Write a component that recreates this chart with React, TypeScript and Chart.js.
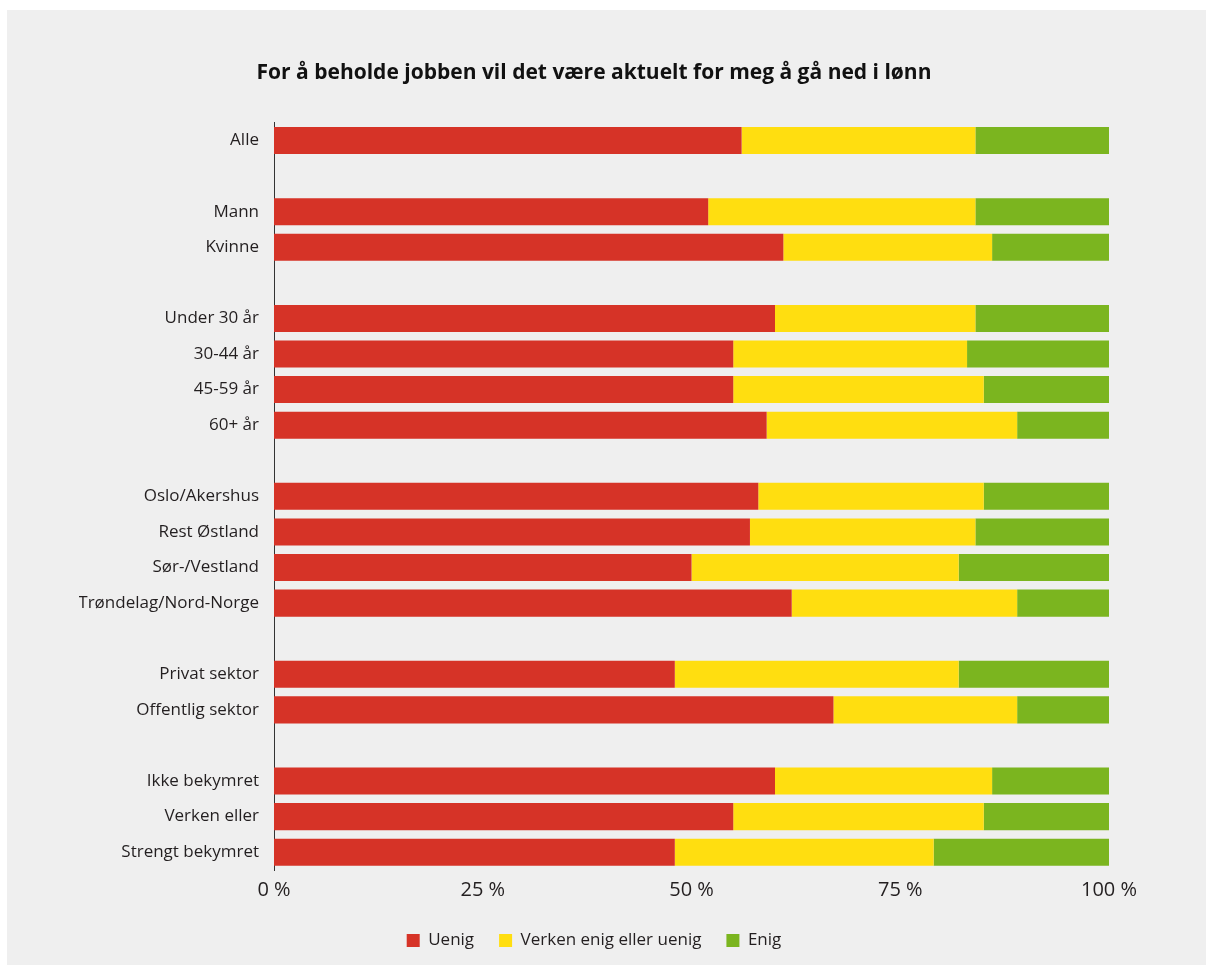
import React, { useEffect, useRef } from "react";
import { Chart, registerables } from "chart.js";

Chart.register(...registerables);

const TITLE = "For å beholde jobben vil det være aktuelt for meg å gå ned i lønn";

const categories = [
  "Alle",
  "",
  "Mann",
  "Kvinne",
  " ",
  "Under 30 år",
  "30-44 år",
  "45-59 år",
  "60+ år",
  "  ",
  "Oslo/Akershus",
  "Rest Østland",
  "Sør-/Vestland",
  "Trøndelag/Nord-Norge",
  "   ",
  "Privat sektor",
  "Offentlig sektor",
  "    ",
  "Ikke bekymret",
  "Verken eller",
  "Strengt bekymret",
];

const uenig = [56, null, 52, 61, null, 60, 55, 55, 59, null, 58, 57, 50, 62, null, 48, 67, null, 60, 55, 48];
const verken = [28, null, 32, 25, null, 24, 28, 30, 30, null, 27, 27, 32, 27, null, 34, 22, null, 26, 30, 31];
const enig = [16, null, 16, 14, null, 16, 17, 15, 11, null, 15, 16, 18, 11, null, 18, 11, null, 14, 15, 21];

const seriesNames = ["Uenig", "Verken enig eller uenig", "Enig"];
const seriesColors = ["#d63327", "#ffde10", "#7bb51f"];
const xTicks = [0, 25, 50, 75, 100];

const FONT = "'Open Sans', Lato, sans-serif";
const TEXT = "#231f20";

export default function App() {
  const ref = useRef<HTMLCanvasElement>(null);

  useEffect(() => {
    if (!ref.current) return;
    const chart = new Chart(ref.current, {
      type: "bar",
      data: {
        labels: categories,
        datasets: [uenig, verken, enig].map((d, i) => ({
          label: seriesNames[i],
          data: d,
          backgroundColor: seriesColors[i],
          borderWidth: 0,
          barPercentage: 0.76,
          categoryPercentage: 1,
        })),
      },
      options: {
        indexAxis: "y",
        animation: false,
        responsive: false,
        maintainAspectRatio: false,
        layout: { padding: { left: 72, right: 97, top: 0, bottom: 6 } },
        plugins: {
          tooltip: { enabled: false },
          title: {
            display: true,
            text: TITLE,
            color: "#111",
            font: { family: FONT, size: 21, weight: "bold" },
            padding: { top: 50, bottom: 37.5 },
          },
          legend: {
            position: "bottom",
            labels: {
              boxWidth: 13,
              boxHeight: 13,
              padding: 25,
              color: TEXT,
              font: { family: FONT, size: 17 },
            },
          },
        },
        scales: {
          x: {
            stacked: true,
            min: 0,
            max: 100,
            afterBuildTicks: (s: any) => {
              s.ticks = xTicks.map((v) => ({ value: v }));
            },
            afterFit: (s: any) => {
              s.height = 37;
            },
            grid: { display: false, drawTicks: false },
            border: { display: false },
            ticks: {
              padding: 8,
              color: TEXT,
              font: { family: FONT, size: 20 },
              callback: (v: any) => v + " %",
              maxRotation: 0,
            },
          },
          y: {
            stacked: true,
            afterFit: (s: any) => {
              s.width = 195;
            },
            grid: { display: false, drawTicks: false },
            border: { display: true, color: "#333", width: 1 },
            ticks: {
              padding: 15,
              color: TEXT,
              font: { family: FONT, size: 17 },
              autoSkip: false,
            },
          },
        },
      },
    });
    return () => chart.destroy();
  }, []);

  return (
    <div
      style={{
        position: "fixed",
        left: 7,
        top: 10,
        width: 1199,
        height: 955,
        background: "#efefef",
      }}
    >
      <canvas ref={ref} width={1199} height={955} style={{ display: "block" }} />
    </div>
  );
}
